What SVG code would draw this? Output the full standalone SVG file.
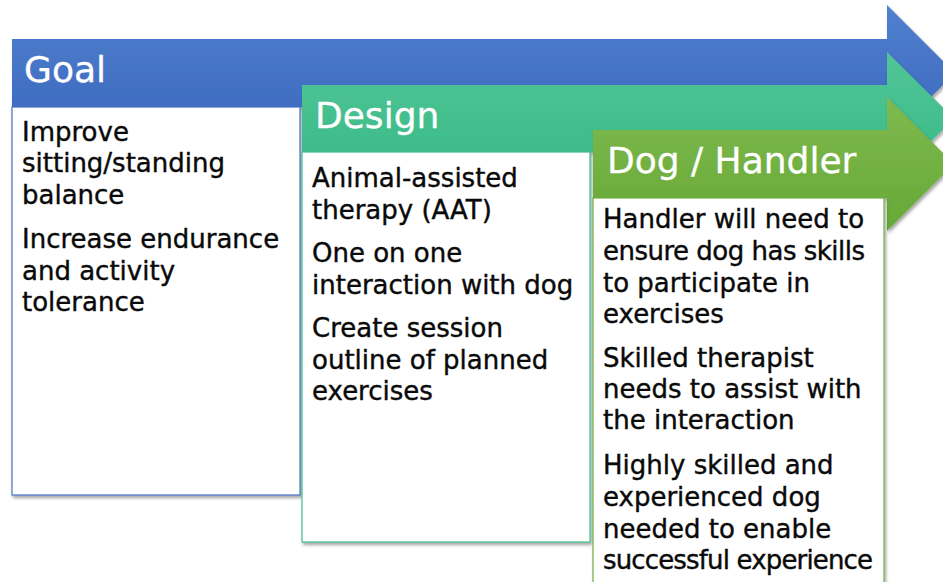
<svg xmlns="http://www.w3.org/2000/svg" width="943" height="582" viewBox="0 0 943 582">
  <defs>
    <linearGradient id="gBlue" x1="0" y1="0" x2="0" y2="1">
      <stop offset="0" stop-color="#5080CE"/>
      <stop offset="1" stop-color="#3A66BD"/>
    </linearGradient>
    <linearGradient id="gTeal" x1="0" y1="0" x2="0" y2="1">
      <stop offset="0" stop-color="#52C597"/>
      <stop offset="1" stop-color="#37B986"/>
    </linearGradient>
    <linearGradient id="gGreen" x1="0" y1="0" x2="0" y2="1">
      <stop offset="0" stop-color="#80BA50"/>
      <stop offset="1" stop-color="#66A836"/>
    </linearGradient>
    <filter id="sh" x="-5%" y="-5%" width="115%" height="115%">
      <feDropShadow dx="1.5" dy="2.5" stdDeviation="1.5" flood-color="#000" flood-opacity="0.35"/>
    </filter>
  </defs>
  <style>
    .title { font-family: "DejaVu Sans", "Liberation Sans", sans-serif; font-size: 36px; fill: #ffffff; stroke: #ffffff; stroke-width: 0.3; }
    .body { font-family: "DejaVu Sans", "Liberation Sans", sans-serif; font-size: 26px; fill: #0a0a0a; stroke: #0a0a0a; stroke-width: 0.4; }
    .box { fill: #ffffff; stroke-width: 1.2; }
  </style>
  <rect width="943" height="582" fill="#ffffff"/>

  <g id="goal">
    <polygon points="12,39 887,39 887,5 955,73 887,141 887,107 12,107" fill="url(#gBlue)" filter="url(#sh)"/>
    <rect class="box" x="12" y="107" width="288" height="388" stroke="#4472C4" filter="url(#sh)"/>
    <text class="title" x="24" y="82">Goal</text>
    <text class="body" x="22">
      <tspan x="22" y="141">Improve</tspan>
      <tspan x="22" y="172">sitting/standing</tspan>
      <tspan x="22" y="204">balance</tspan>
      <tspan x="22" y="248">Increase endurance</tspan>
      <tspan x="22" y="280">and activity</tspan>
      <tspan x="22" y="311">tolerance</tspan>
    </text>
  </g>

  <g id="design">
    <polygon points="302,85 887,85 887,52 954,118.5 887,185 887,152 302,152" fill="url(#gTeal)" filter="url(#sh)"/>
    <rect class="box" x="302" y="152" width="288" height="390" stroke="#3FBE8A" filter="url(#sh)"/>
    <text class="title" x="315" y="128">Design</text>
    <text class="body">
      <tspan x="312" y="187">Animal-assisted</tspan>
      <tspan x="312" y="219">therapy (AAT)</tspan>
      <tspan x="312" y="262">One on one</tspan>
      <tspan x="312" y="294">interaction with dog</tspan>
      <tspan x="312" y="337">Create session</tspan>
      <tspan x="312" y="369">outline of planned</tspan>
      <tspan x="312" y="400">exercises</tspan>
    </text>
  </g>

  <g id="dog-handler">
    <polygon points="593,130 887,130 887,97 954,164 887,231 887,198 593,198" fill="url(#gGreen)" filter="url(#sh)"/>
    <rect class="box" x="593" y="198" width="291" height="400" stroke="#70AD47" filter="url(#sh)"/>
    <text class="title" x="607" y="173">Dog / Handler</text>
    <text class="body" x="603" y="228">Handler will need to</text>
    <text class="body" x="603" y="260" textLength="262">ensure dog has skills</text>
    <text class="body">
      <tspan x="603" y="292">to participate in</tspan>
      <tspan x="603" y="323">exercises</tspan>
      <tspan x="603" y="367">Skilled therapist</tspan>
      <tspan x="603" y="398">needs to assist with</tspan>
      <tspan x="603" y="429">the interaction</tspan>
      <tspan x="603" y="474">Highly skilled and</tspan>
      <tspan x="603" y="506">experienced dog</tspan>
      <tspan x="603" y="538">needed to enable</tspan>
    </text>
    <text class="body" x="603" y="569" textLength="270">successful experience</text>
  </g>

  <g id="connectors"></g>
</svg>
